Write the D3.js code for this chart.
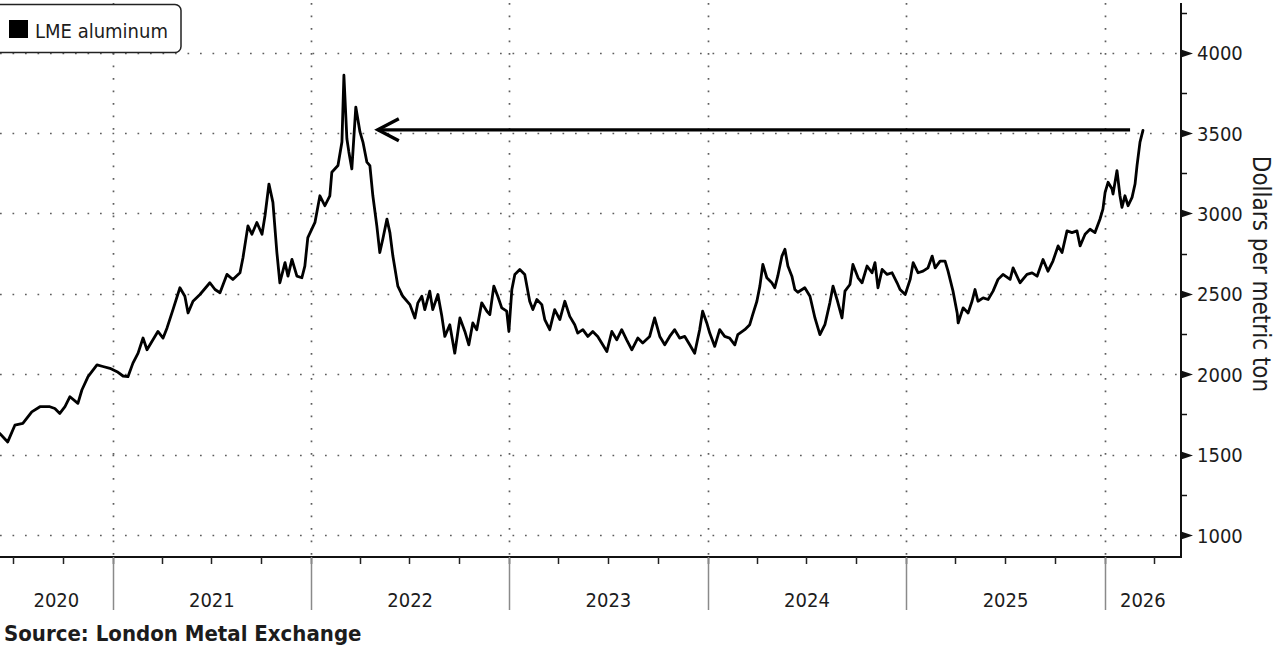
<!DOCTYPE html>
<html><head><meta charset="utf-8">
<script src="https://cdn.jsdelivr.net/npm/d3@7"></script>
<style>
html,body{margin:0;padding:0;background:#fff;overflow:hidden;}
svg{display:block;}
text{font-family:"DejaVu Sans Condensed","DejaVu Sans",sans-serif;fill:#1c1c1c;}
</style></head><body>
<svg id="chart" width="1280" height="648"></svg>
<script>
// ---- data ----
const seriesName = "LME aluminum";
const axisTitle = "Dollars per metric ton";
const sourceText = "Source: London Metal Exchange";
// time as decimal years
const times = [
2020.432,2020.472,2020.508,2020.548,2020.593,2020.634,2020.684,2020.709,2020.734,2020.760,
2020.785,2020.825,2020.845,2020.876,2020.921,2020.951,2020.986,2021.022,2021.052,2021.077,
2021.102,2021.128,2021.153,2021.173,2021.203,2021.228,2021.254,2021.274,2021.304,2021.339,
2021.364,2021.380,2021.405,2021.440,2021.490,2021.516,2021.541,2021.576,2021.606,2021.642,
2021.657,2021.682,2021.702,2021.727,2021.753,2021.768,2021.788,2021.808,2021.828,2021.843,
2021.869,2021.884,2021.904,2021.929,2021.954,2021.969,2021.984,2022.020,2022.045,2022.070,
2022.095,2022.105,2022.136,2022.156,2022.166,2022.181,2022.191,2022.206,2022.226,2022.247,
2022.262,2022.282,2022.297,2022.312,2022.332,2022.347,2022.362,2022.383,2022.398,2022.413,
2022.438,2022.463,2022.499,2022.524,2022.539,2022.559,2022.574,2022.599,2022.614,2022.640,
2022.660,2022.675,2022.700,2022.725,2022.751,2022.776,2022.796,2022.816,2022.836,2022.861,
2022.887,2022.902,2022.922,2022.942,2022.962,2022.987,2022.998,2023.013,2023.028,2023.053,
2023.078,2023.103,2023.119,2023.139,2023.164,2023.179,2023.204,2023.229,2023.255,2023.280,
2023.305,2023.330,2023.345,2023.371,2023.396,2023.421,2023.446,2023.466,2023.492,2023.517,
2023.542,2023.567,2023.592,2023.618,2023.648,2023.673,2023.708,2023.733,2023.759,2023.784,
2023.809,2023.834,2023.859,2023.885,2023.910,2023.935,2023.960,2023.975,2023.996,2024.011,
2024.036,2024.061,2024.086,2024.111,2024.137,2024.152,2024.187,2024.212,2024.227,2024.248,
2024.263,2024.278,2024.298,2024.323,2024.338,2024.353,2024.374,2024.389,2024.404,2024.424,
2024.439,2024.454,2024.489,2024.515,2024.540,2024.565,2024.590,2024.615,2024.631,2024.651,
2024.676,2024.691,2024.716,2024.731,2024.757,2024.777,2024.802,2024.827,2024.842,2024.857,
2024.878,2024.903,2024.928,2024.953,2024.968,2024.994,2025.019,2025.034,2025.059,2025.084,
2025.109,2025.130,2025.145,2025.170,2025.195,2025.210,2025.235,2025.256,2025.261,2025.286,
2025.311,2025.331,2025.346,2025.361,2025.387,2025.412,2025.437,2025.462,2025.487,2025.523,
2025.538,2025.573,2025.608,2025.634,2025.659,2025.689,2025.714,2025.739,2025.765,2025.785,
2025.810,2025.835,2025.860,2025.876,2025.901,2025.926,2025.951,2025.976,2025.991,2026.002,
2026.017,2026.037,2026.042,2026.062,2026.077,2026.087,2026.102,2026.118,2026.138,2026.153,
2026.163,2026.178,2026.193
];
const prices = [
1631,1579,1683,1694,1766,1798,1798,1787,1756,1798,
1860,1819,1902,1985,2058,2048,2037,2016,1989,1985,
2069,2131,2225,2152,2214,2266,2225,2288,2402,2538,
2485,2381,2454,2496,2569,2527,2507,2621,2589,2631,
2725,2923,2871,2944,2871,2986,3183,3069,2757,2569,
2694,2610,2714,2610,2600,2673,2850,2944,3110,3048,
3110,3256,3298,3444,3860,3465,3383,3277,3662,3507,
3444,3319,3298,3110,2923,2757,2840,2965,2881,2735,
2548,2485,2433,2350,2444,2485,2402,2517,2402,2496,
2360,2235,2308,2131,2350,2266,2183,2319,2277,2444,
2392,2371,2548,2485,2413,2392,2266,2527,2621,2652,
2621,2454,2402,2465,2433,2340,2277,2402,2340,2454,
2360,2308,2256,2277,2235,2266,2235,2194,2141,2266,
2214,2277,2214,2152,2225,2194,2235,2350,2235,2183,
2235,2277,2225,2235,2183,2131,2277,2392,2319,2256,
2173,2277,2235,2225,2183,2246,2277,2308,2371,2454,
2548,2683,2600,2569,2538,2610,2735,2777,2673,2610,
2527,2510,2538,2485,2350,2246,2308,2444,2548,2465,
2350,2517,2558,2683,2600,2569,2673,2631,2694,2538,
2652,2621,2631,2569,2527,2496,2590,2694,2631,2641,
2662,2735,2662,2704,2704,2641,2517,2381,2319,2413,
2381,2454,2527,2454,2475,2465,2517,2590,2621,2590,
2662,2569,2621,2631,2610,2714,2641,2704,2798,2757,
2892,2881,2892,2798,2871,2902,2881,2964,3027,3131,
3194,3152,3121,3267,3110,3038,3110,3048,3100,3183,
3298,3444,3517
];
const yTicks = [1000,1500,2000,2500,3000,3500,4000];
const yMinorTicks = [1250,1750,2250,2750,3250,3750,4250];
const yearLabels = ["2020","2021","2022","2023","2024","2025","2026"];
// annotation arrow: [decimal year, price]
const arrowStart = [2026.128, 3520];
const arrowEnd = [2022.332, 3520];

// ---- helpers ----
function toDate(t){
  const y=Math.floor(t), s=Date.UTC(y,0,1), e=Date.UTC(y+1,0,1);
  return new Date(s+(t-y)*(e-s));
}
const data = times.map((t,i)=>({d:toDate(t), v:prices[i]}));

const svg = d3.select("#chart");
const plot = {left:0, right:1181, top:3, bottom:557};

const x = d3.scaleUtc()
  .domain([new Date(Date.UTC(2021,0,1)), new Date(Date.UTC(2026,0,1))])
  .range([112.7, 1104.7]);
const y = d3.scaleLinear().domain([1000,4000]).range([535,52.7]);

const xStart = x.invert(plot.left), xEnd = x.invert(plot.right);
const yearStarts = d3.utcYear.range(xStart, xEnd);
const quarterStarts = d3.utcMonth.every(3).range(xStart, xEnd);

// gridlines (dotted)
const grid = svg.append("g").attr("stroke","#5e5e5e").attr("stroke-width",1.7)
  .attr("stroke-dasharray","1.7 10.8");
grid.selectAll("line.h").data(yTicks).join("line")
  .attr("x1",plot.left).attr("x2",plot.right)
  .attr("y1",d=>Math.round(y(d))+0.5).attr("y2",d=>Math.round(y(d))+0.5);
grid.selectAll("line.v").data(yearStarts).join("line")
  .attr("x1",d=>Math.round(x(d))+0.5).attr("x2",d=>Math.round(x(d))+0.5)
  .attr("y1",plot.top).attr("y2",plot.bottom);

// price line
svg.append("clipPath").attr("id","clip").append("rect")
  .attr("x",plot.left).attr("y",plot.top).attr("width",plot.right-plot.left).attr("height",plot.bottom-plot.top);
svg.append("path").datum(data)
  .attr("clip-path","url(#clip)")
  .attr("fill","none").attr("stroke","#000").attr("stroke-width",2.8)
  .attr("stroke-linejoin","round").attr("stroke-linecap","round")
  .attr("d",d3.line().x(d=>x(d.d)).y(d=>y(d.v)));

// annotation arrow
const ax1 = x(toDate(arrowStart[0])), ay1 = y(arrowStart[1]);
const ax2 = x(toDate(arrowEnd[0])), ay2 = y(arrowEnd[1]);
const arrow = svg.append("g").attr("stroke","#000").attr("stroke-width",3.4)
  .attr("fill","none").attr("stroke-linecap","butt");
arrow.append("line").attr("x1",ax1).attr("y1",ay1).attr("x2",ax2+1).attr("y2",ay2);
arrow.append("polyline").attr("stroke-linejoin","miter")
  .attr("points",`${ax2+22},${ay2-11} ${ax2+1},${ay2} ${ax2+22},${ay2+11}`);

// axes frame
svg.append("line").attr("x1",plot.right).attr("x2",plot.right)
  .attr("y1",plot.top).attr("y2",plot.bottom+1).attr("stroke","#111").attr("stroke-width",2);
svg.append("line").attr("x1",plot.left).attr("x2",plot.right+1)
  .attr("y1",plot.bottom).attr("y2",plot.bottom).attr("stroke","#111").attr("stroke-width",2);

// right axis ticks
svg.selectAll("path.ytri").data(yTicks).join("path")
  .attr("fill","#111")
  .attr("d",d=>{const yy=Math.round(y(d))+0.5;return `M${plot.right},${yy-4} L${plot.right+12},${yy} L${plot.right},${yy+4} Z`;});
svg.selectAll("line.ymin").data(yMinorTicks).join("line")
  .attr("x1",plot.right).attr("x2",plot.right+6)
  .attr("y1",d=>Math.round(y(d))+0.5).attr("y2",d=>Math.round(y(d))+0.5)
  .attr("stroke","#111").attr("stroke-width",1.5);
svg.selectAll("text.ylab").data(yTicks).join("text")
  .attr("x",plot.right+16).attr("y",d=>y(d)+7.5)
  .attr("font-size",20).text(d=>d);

// axis title
svg.append("text")
  .attr("transform",`translate(1253,${274}) rotate(90)`)
  .attr("text-anchor","middle").attr("font-size",24).text(axisTitle);

// bottom axis: quarter ticks, year separators, year labels
svg.selectAll("line.q").data(quarterStarts).join("line")
  .attr("x1",d=>Math.round(x(d))+0.5).attr("x2",d=>Math.round(x(d))+0.5)
  .attr("y1",plot.bottom).attr("y2",plot.bottom+7)
  .attr("stroke","#222").attr("stroke-width",1.5);
svg.selectAll("line.yr").data(yearStarts).join("line")
  .attr("x1",d=>Math.round(x(d))+0.5).attr("x2",d=>Math.round(x(d))+0.5)
  .attr("y1",plot.bottom).attr("y2",610)
  .attr("stroke","#8a8a8a").attr("stroke-width",1.5);
const yearSpans = yearLabels.map(lbl=>{
  const s = new Date(Date.UTC(+lbl,0,1)), e = new Date(Date.UTC(+lbl+1,0,1));
  return {lbl, cx:(Math.max(plot.left,x(s))+Math.min(plot.right,x(e)))/2};
});
svg.selectAll("text.yl").data(yearSpans).join("text")
  .attr("x",d=>d.cx).attr("y",607).attr("text-anchor","middle")
  .attr("font-size",20).text(d=>d.lbl);

// legend
const lg = svg.append("g");
lg.append("rect").attr("x",-12).attr("y",4.5).attr("width",193).attr("height",48)
  .attr("rx",6).attr("fill","#fff").attr("stroke","#222").attr("stroke-width",1.5);
lg.append("rect").attr("x",9).attr("y",20).attr("width",19).attr("height",18).attr("fill","#000");
lg.append("text").attr("x",35).attr("y",38).attr("font-size",20).text(seriesName);

// source
svg.append("text").attr("x",4).attr("y",641).attr("font-size",22)
  .attr("font-family","'DejaVu Sans',sans-serif")
  .attr("font-weight","bold").text(sourceText);
</script>
</body></html>
